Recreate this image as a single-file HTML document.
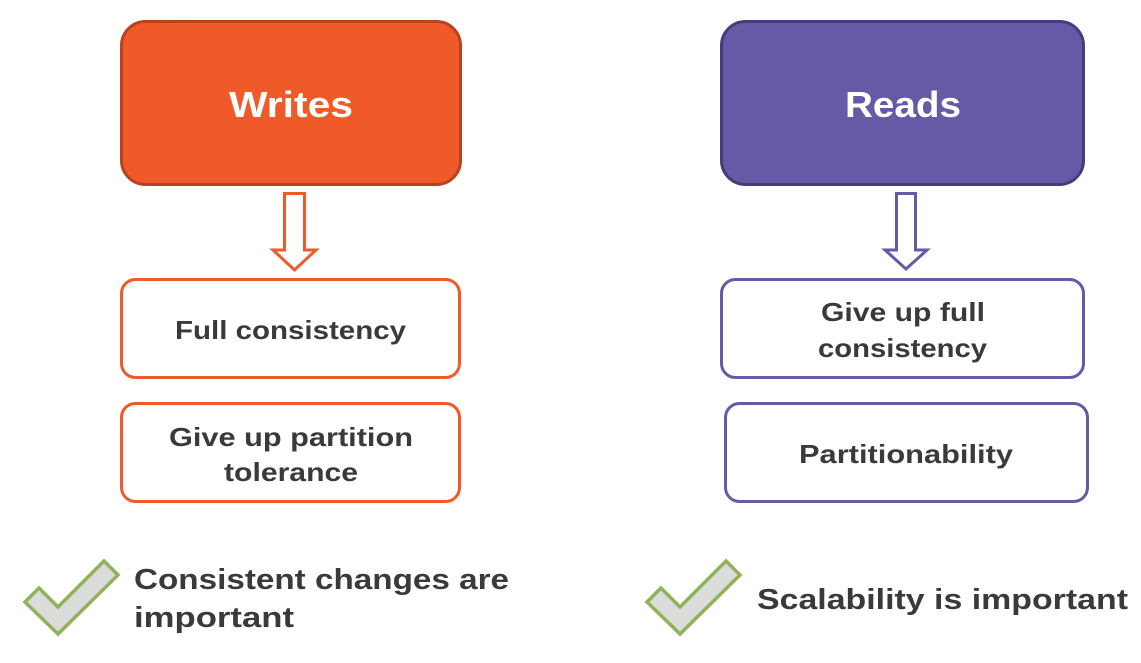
<!DOCTYPE html>
<html><head><meta charset="utf-8"><style>
html,body{margin:0;padding:0;background:#fff;}
svg{display:block;}
text{font-family:"Liberation Sans",sans-serif;font-weight:bold;}
</style></head><body>
<svg width="1141" height="663" viewBox="0 0 1141 663" xmlns="http://www.w3.org/2000/svg">
<rect x="121.5" y="21.5" width="339" height="163" rx="24" fill="#F05A28" stroke="#B9431F" stroke-width="3"/>
<text x="229" y="117" font-size="36" fill="#fff" textLength="124" lengthAdjust="spacingAndGlyphs">Writes</text>
<rect x="721.5" y="21.5" width="362" height="163" rx="24" fill="#6659A5" stroke="#463B7E" stroke-width="3"/>
<text x="845" y="117" font-size="36" fill="#fff" textLength="116" lengthAdjust="spacingAndGlyphs">Reads</text>
<polygon points="284.5,193.5 304.5,193.5 304.5,250 316,250 294.5,270 273,250 284.5,250" fill="#fff" stroke="#F05A28" stroke-width="3"/>
<polygon points="896.5,193.5 915.5,193.5 915.5,250 927,250 906,269 885,250 896.5,250" fill="#fff" stroke="#6659A5" stroke-width="3"/>
<rect x="121.5" y="279.5" width="338" height="98" rx="14" fill="#fff" stroke="#F05A28" stroke-width="3"/>
<text x="175" y="339" font-size="26" fill="#3a3a3a" textLength="231" lengthAdjust="spacingAndGlyphs">Full consistency</text>
<rect x="121.5" y="403.5" width="338" height="98" rx="14" fill="#fff" stroke="#F05A28" stroke-width="3"/>
<text x="169" y="446" font-size="26" fill="#3a3a3a" textLength="244" lengthAdjust="spacingAndGlyphs">Give up partition</text>
<text x="224" y="481" font-size="26" fill="#3a3a3a" textLength="134" lengthAdjust="spacingAndGlyphs">tolerance</text>
<rect x="721.5" y="279.5" width="362" height="98" rx="14" fill="#fff" stroke="#6659A5" stroke-width="3"/>
<text x="821" y="321" font-size="26" fill="#3a3a3a" textLength="164" lengthAdjust="spacingAndGlyphs">Give up full</text>
<text x="818" y="357" font-size="26" fill="#3a3a3a" textLength="169" lengthAdjust="spacingAndGlyphs">consistency</text>
<rect x="725.5" y="403.5" width="362" height="98" rx="14" fill="#fff" stroke="#6659A5" stroke-width="3"/>
<text x="799" y="463" font-size="26" fill="#3a3a3a" textLength="214" lengthAdjust="spacingAndGlyphs">Partitionability</text>
<polygon points="25,602 39,588 58,607 104,561 118,575 58,634" fill="#DCDCDA" stroke="#8FB35A" stroke-width="3.5"/>
<polygon points="647,602 661,588 680,607 726,561 740,575 680,634" fill="#DCDCDA" stroke="#8FB35A" stroke-width="3.5"/>
<text x="134" y="589" font-size="29" fill="#3a3a3a" textLength="375" lengthAdjust="spacingAndGlyphs">Consistent changes are</text>
<text x="134" y="627" font-size="29" fill="#3a3a3a" textLength="160" lengthAdjust="spacingAndGlyphs">important</text>
<text x="757" y="609" font-size="29" fill="#3a3a3a" textLength="371" lengthAdjust="spacingAndGlyphs">Scalability is important</text>
</svg>
</body></html>
